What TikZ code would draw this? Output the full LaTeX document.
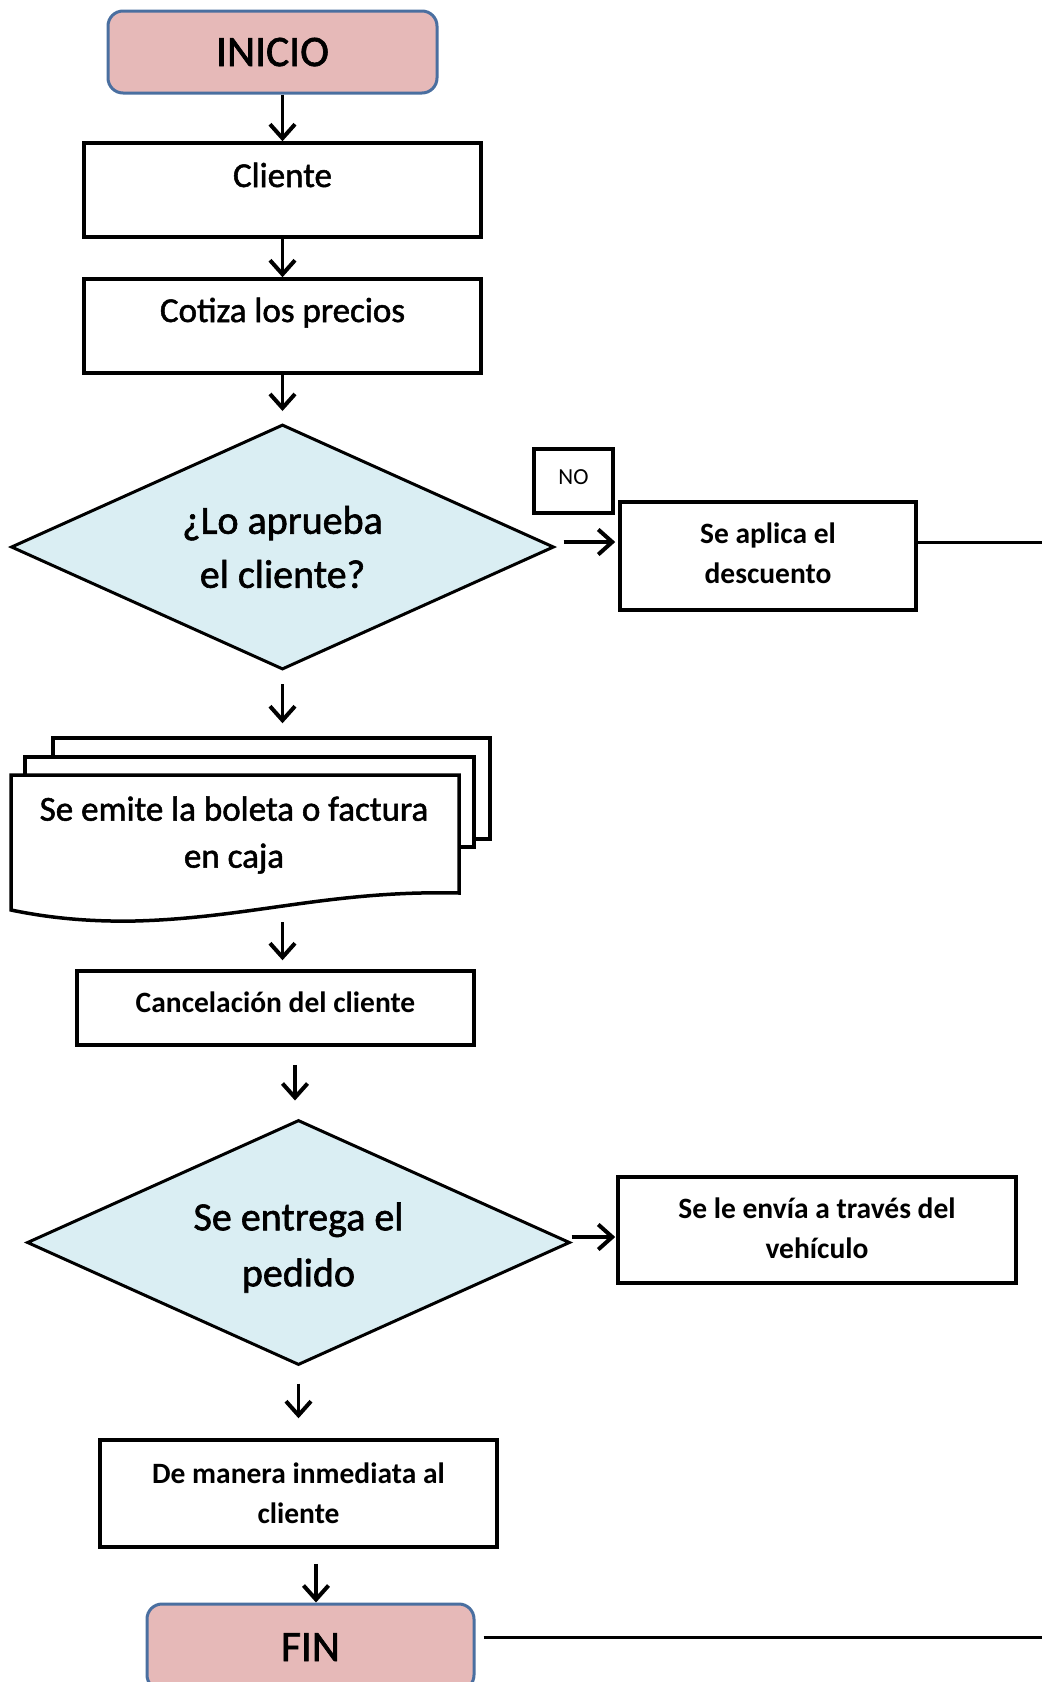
\documentclass[tikz,border=0pt]{standalone}
\usepackage{fontspec}
\setmainfont{Carlito}
\newfontfamily\medfont{Carlito}[FakeBold=1.5]
\usetikzlibrary{arrows.meta,shapes.geometric}
\definecolor{termfill}{HTML}{E6B9B8}
\definecolor{termline}{HTML}{4A6FA0}
\definecolor{decfill}{HTML}{DAEEF3}
\begin{document}
\begin{tikzpicture}[x=1pt,y=-1pt,
  procbox/.style={draw=black, line width=3.5pt, fill=white, rectangle, inner sep=0pt, align=center},
  sheet/.style={draw=black, line width=3.5pt, fill=white},
  termbox/.style={draw=termline, line width=3pt, fill=termfill, rounded corners=15pt, inner sep=0pt,
    font=\fontsize{43.5}{50}\selectfont\medfont, text height=28pt, text depth=0pt},
  decbox/.style={draw=black, line width=3pt, fill=decfill, diamond, aspect=2.2, inner sep=0pt, align=center,
    minimum width=543pt, minimum height=245pt, font=\fontsize{40}{54}\selectfont\medfont},
  bigtxt/.style={font=\fontsize{35}{47}\selectfont\medfont},
  smalltxt/.style={font=\fontsize{29.5}{40}\selectfont\bfseries},
  flow/.style={line width=3.4pt, -{Straight Barb[length=14pt,width=25pt,line width=4pt]}},
  plainline/.style={line width=3pt}]
\useasboundingbox (0,0) rectangle (1042,1682);

% terminals
\node[termbox, minimum width=329pt, minimum height=82pt] (inicio) at (272.5,52) {INICIO};
\node[termbox, minimum width=327pt, minimum height=86pt] (fin) at (310.5,1647) {FIN};

% process boxes
\node[procbox, bigtxt, minimum width=397pt, minimum height=94pt, text height=22pt, text depth=28pt] (cliente) at (282.5,190) {Cliente};
\node[procbox, bigtxt, minimum width=397pt, minimum height=94pt, text height=22pt, text depth=30pt] (cotiza) at (282.5,326) {Cotiza los precios};

% decision 1
\node[decbox] (d1) at (282.5,547) {¿Lo aprueba\\el cliente?};

% NO label and discount box
\node[procbox, line width=3.5pt, minimum width=79pt, minimum height=64pt, font=\fontsize{23}{28}\selectfont, text height=15pt, text depth=9pt] (nolab) at (573.5,481) {NO};
\node[procbox, smalltxt, minimum width=296pt, minimum height=108pt] (aplica) at (768,556) {Se aplica el\\descuento\rule[-6pt]{0pt}{0pt}};

% multi-document
\node[sheet, minimum width=437pt, minimum height=101pt, inner sep=0pt] (docback) at (271.5,788.5) {};
\node[sheet, minimum width=449pt, minimum height=90pt, inner sep=0pt] (docmid) at (249.5,802) {};
\draw[sheet] (11,775) -- (459,775) -- (459,893)
  .. controls (330,890) and (250,918) .. (135,921)
  .. controls (80,922) and (40,916) .. (11,910) -- cycle;
\node[bigtxt, align=center, inner sep=0pt] (doc) at (234,835) {Se emite la boleta o factura\\en caja};
\coordinate (docout) at (282.5,922);

\node[procbox, smalltxt, minimum width=397pt, minimum height=74pt, text height=19pt, text depth=11pt] (cancel) at (275.5,1008) {Cancelación del cliente};

% decision 2
\node[decbox, font=\fontsize{40}{56}\selectfont\medfont] (d2) at (298.5,1242.5) {\rule{0pt}{38pt}Se entrega el\\pedido};
\node[procbox, smalltxt, minimum width=398pt, minimum height=106pt] (envia) at (817,1230) {Se le envía a través del\\vehículo\rule[-4pt]{0pt}{0pt}};

\node[procbox, smalltxt, minimum width=397pt, minimum height=107pt] (manera) at (298.5,1493.5) {De manera inmediata al\\cliente};

% helper coordinates
\path ([yshift=14pt]aplica.west) coordinate (aplicaIn);
\path ([yshift=-7pt]envia.west) coordinate (enviaIn);
\coordinate (edge1) at (1042,542);
\coordinate (edge2) at (1042,1637);

% connectors
\draw[flow] (cliente.north |- inicio.south) -- (cliente.north);
\draw[flow] (cliente.south) -- (cotiza.north);
\draw[flow, shorten >=12pt] (cotiza.south) -- (d1.north);
\draw[flow, shorten <=8pt, shorten >=3pt] (d1.east |- aplicaIn) -- (aplicaIn);
\draw[plainline] (aplica.east |- edge1) -- (edge1);
\draw[flow, shorten <=13pt, shorten >=13pt] (d1.south) -- (d1.south |- docback.north);
\draw[flow, shorten >=9pt] (docout) -- (docout |- cancel.north);
\draw[flow, shorten <=18pt, shorten >=18pt] ([xshift=19.5pt]cancel.south) -- ([xshift=19.5pt]cancel.south |- d2.north);
\draw[flow, shorten >=1pt] (d2.east |- enviaIn) -- (enviaIn);
\draw[flow, shorten <=17pt, shorten >=20pt] (d2.south) -- (manera.north);
\draw[flow, shorten <=15pt] ([xshift=17.5pt]manera.south) -- ([xshift=17.5pt]manera.south |- fin.north);
\draw[plainline, shorten <=8pt] (fin.east |- edge2) -- (edge2);
\end{tikzpicture}
\end{document}
